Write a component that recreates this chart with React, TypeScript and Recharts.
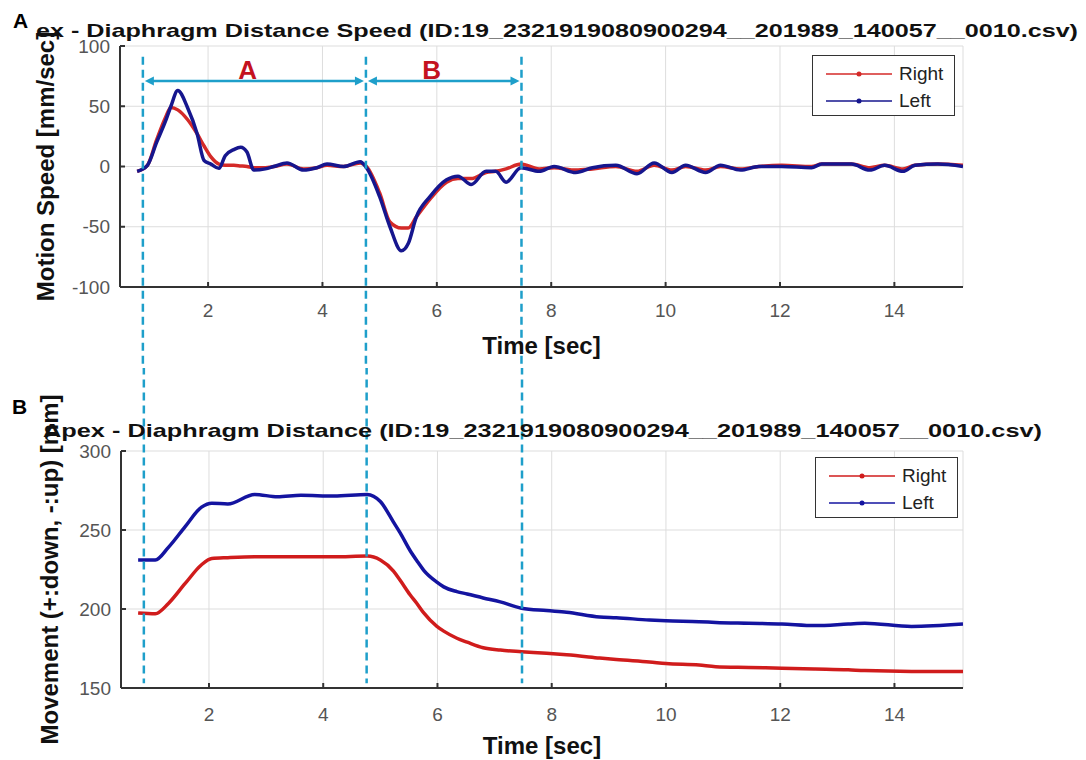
import React from "react";
import {
  CartesianGrid,
  Legend,
  Line,
  LineChart,
  ReferenceDot,
  ReferenceLine,
  XAxis,
  YAxis
} from "recharts";

// speed panel (A)
const speedTime = [0.76, 0.94, 1.1, 1.25, 1.35, 1.47, 1.64, 1.81, 1.93, 2.05, 2.19, 2.3, 2.45, 2.57, 2.68, 2.8, 3.0, 3.15, 3.38, 3.67, 3.9, 4.08, 4.37, 4.66, 4.77, 5.0, 5.18, 5.38, 5.5, 5.64, 5.88, 6.17, 6.37, 6.6, 6.86, 7.03, 7.21, 7.47, 7.79, 8.05, 8.43, 8.72, 9.13, 9.5, 9.8, 10.11, 10.35, 10.7, 10.96, 11.31, 11.63, 12.03, 12.55, 12.73, 13.25, 13.57, 13.83, 14.15, 14.36, 14.76, 15.2];
const speedRight = [-4, 1, 22, 40, 49, 47, 39, 27, 17, 8, 2, 1, 1, 0.5, 0, -1, -1, 0, 2, -2, -1, 1, 0, 3, 0, -22, -46, -51, -51, -42, -27, -13, -10, -10, -5, -4, -2, 2, -2, -1, -3, -2, 0, -4, 1, -3, 0, -3, 0, -2, 0, 1, 0, 2, 2, -1, 1, -2, 1, 2, 1];
const speedLeft = [-4, 1, 20, 37, 50, 63, 49, 27, 5, 2, -1.5, 9, 14, 16, 12, -3, -2, 0, 3, -3, -1, 2, 0, 4, -1, -25, -50, -70, -64, -42, -25, -11, -8, -15, -4, -4, -13, -1, -4, 0, -5, -1, 1, -6, 3, -5, 1, -5, 1, -3, 0, 0, -1, 2, 2, -3, 1, -4, 1, 2, 0];

// distance panel (B)
const distTime = [0.76, 1.06, 1.29, 1.58, 1.87, 2.05, 2.33, 2.8, 3.2, 3.61, 4.19, 4.77, 5.0, 5.23, 5.35, 5.52, 5.64, 5.76, 5.99, 6.11, 6.34, 6.52, 6.8, 7.1, 7.47, 7.91, 8.26, 8.84, 9.13, 9.71, 10.0, 10.58, 10.87, 11.45, 12.03, 12.61, 13.19, 13.48, 14.3, 15.2];
const distRight = [197.5, 197, 203.5, 216, 228, 232, 232.5, 233, 233, 233, 233, 233.5, 231, 224, 218, 209, 203.5, 197.5, 189, 186, 181.5, 179, 175.5, 174, 173, 172, 171, 169, 168, 166.5, 165.5, 164.5, 163.5, 163, 162.5, 162, 161.5, 161, 160.5, 160.5];
const distLeft = [231, 231, 239, 252, 264.5, 267, 266.5, 272.5, 271, 272, 271.5, 272.5, 268, 255, 248, 237, 230.5, 224.5, 217, 214, 211, 209.5, 207, 204.5, 200.5, 199, 198, 195, 194.5, 193, 192.5, 192, 191.5, 191, 190.5, 189.5, 190.5, 191, 189, 190.5];

const timeTicks = [2, 4, 6, 8, 10, 12, 14];
const timeDomain = [0.46, 15.2];
const speedTicks = [-100, -50, 0, 50, 100];
const speedDomain = [-100, 100];
const distTicks = [150, 200, 250, 300];
const distDomain = [150, 300];

// phase markers
const phaseBounds = [0.86, 4.76, 7.48];
const phaseNames = ["A", "B"];
const phaseNameX = [2.69, 5.91];
const phaseNameY = 80;
const arrowY = 71;
const legendOrder = ["Right", "Left"];

const FONT = "'Liberation Sans', Arial, sans-serif";
const AXIS = "#333333";
const CYAN = "#1e9fca";
const RED = "#d42a28";
const BLUE = "#16168e";

const speedData = speedTime.map((t, i) => ({ t, right: speedRight[i], left: speedLeft[i] }));
const distData = distTime.map((t, i) => ({ t, right: distRight[i], left: distLeft[i] }));

const ArrowShape = (props: any) => {
  const { x1, y1, x2, y2 } = props;
  const a = Math.min(x1, x2) + 2;
  const b = Math.max(x1, x2) - 2;
  return (
    <g>
      <line x1={a + 4} y1={y1} x2={b - 4} y2={y2} stroke={CYAN} strokeWidth={2.5} />
      <polygon points={`${a},${y1} ${a + 9},${y1 - 4.5} ${a + 9},${y1 + 4.5}`} fill={CYAN} />
      <polygon points={`${b},${y2} ${b - 9},${y2 - 4.5} ${b - 9},${y2 + 4.5}`} fill={CYAN} />
    </g>
  );
};

const LegendBox = ({ payload }: any) => {
  const items = legendOrder
    .map((name) => (payload || []).find((p: any) => p.value === name))
    .filter(Boolean);
  return (
    <div
      style={{
        border: "1.5px solid #333",
        background: "#fff",
        width: 143,
        height: 61,
        boxSizing: "border-box",
        padding: "4px 0 0 13px",
        fontFamily: FONT,
        fontSize: 19,
        color: "#222"
      }}
    >
      {items.map((p: any) => (
        <div key={p.value} style={{ display: "flex", alignItems: "center", height: 27 }}>
          <svg width={70} height={10}>
            <line x1={0} y1={5} x2={66} y2={5} stroke={p.color} strokeWidth={1.5} />
            <circle cx={33} cy={5} r={2.5} fill={p.color} />
          </svg>
          <span style={{ marginLeft: 3, lineHeight: "20px" }}>{p.value}</span>
        </div>
      ))}
    </div>
  );
};

const tickStyle = { fill: "#555", fontSize: 19, fontFamily: FONT };
const axisLineStyle = { stroke: AXIS, strokeWidth: 2 };

export default function App() {
  return (
    <div style={{ position: "absolute", left: 0, top: 0, width: 1086, height: 760, background: "#fff", fontFamily: FONT }}>
      <div style={{ position: "absolute", left: 0, top: 0 }}>
        <LineChart width={1086} height={368} data={speedData} margin={{ top: 46, right: 123, bottom: 0, left: 0 }}>
          <CartesianGrid stroke="#dddddd" strokeWidth={1} />
          <XAxis
            dataKey="t"
            type="number"
            domain={timeDomain}
            ticks={timeTicks}
            allowDataOverflow
            height={81}
            tickSize={-5}
            tickMargin={22}
            axisLine={axisLineStyle}
            tickLine={axisLineStyle}
            tick={tickStyle}
            label={{ value: "Time [sec]", position: "insideBottom", offset: 14, fill: "#111", fontSize: 24, fontWeight: "bold", fontFamily: FONT }}
          />
          <XAxis xAxisId="top" orientation="top" dataKey="t" type="number" domain={timeDomain} ticks={timeTicks} allowDataOverflow height={0} tickSize={-5} tick={false} axisLine={axisLineStyle} tickLine={axisLineStyle} />
          <YAxis
            type="number"
            domain={speedDomain}
            ticks={speedTicks}
            allowDataOverflow
            width={120}
            tickSize={-5}
            tickMargin={15}
            axisLine={axisLineStyle}
            tickLine={axisLineStyle}
            tick={tickStyle}
            label={{ value: "Motion Speed [mm/sec]", angle: -90, position: "insideLeft", offset: 45, fill: "#111", fontSize: 24, fontWeight: "bold", fontFamily: FONT, style: { textAnchor: "middle" } }}
          />
          <YAxis yAxisId="right" orientation="right" type="number" domain={speedDomain} ticks={speedTicks} allowDataOverflow width={0} tickSize={-5} tick={false} axisLine={axisLineStyle} tickLine={axisLineStyle} />
          <Line type="monotone" dataKey="right" name="Right" stroke={RED} strokeWidth={3.5} dot={false} isAnimationActive={false} />
          <Line type="monotone" dataKey="left" name="Left" stroke={BLUE} strokeWidth={3.5} dot={false} isAnimationActive={false} />
          {phaseBounds.map((x) => (
            <ReferenceLine
              key={`a${x}`}
              segment={[{ x, y: 91 }, { x, y: -175 }]}
              ifOverflow="visible"
              stroke={CYAN}
              strokeWidth={2.5}
              strokeDasharray="8 5"
            />
          ))}
          {phaseNames.map((name, i) => (
            <ReferenceLine
              key={`arrow${name}`}
              segment={[{ x: phaseBounds[i], y: arrowY }, { x: phaseBounds[i + 1], y: arrowY }]}
              ifOverflow="visible"
              shape={ArrowShape}
            />
          ))}
          {phaseNames.map((name, i) => (
            <ReferenceDot
              key={`name${name}`}
              x={phaseNameX[i]}
              y={phaseNameY}
              r={0}
              fill="none"
              stroke="none"
              label={{ value: name, position: "center", fill: "#c4121f", fontSize: 26, fontWeight: "bold", fontFamily: FONT }}
            />
          ))}
          <Legend
            layout="vertical"
            align="center"
            verticalAlign="middle"
            content={LegendBox}
            wrapperStyle={{ left: 812, top: 55, width: 143, height: 61 }}
          />
        </LineChart>
      </div>

      <div style={{ position: "absolute", left: 0, top: 368 }}>
        <LineChart width={1086} height={392} data={distData} margin={{ top: 83, right: 123, bottom: 0, left: 0 }}>
          <CartesianGrid stroke="#dddddd" strokeWidth={1} />
          <XAxis
            dataKey="t"
            type="number"
            domain={timeDomain}
            ticks={timeTicks}
            allowDataOverflow
            height={72}
            tickSize={-5}
            tickMargin={25}
            axisLine={axisLineStyle}
            tickLine={axisLineStyle}
            tick={tickStyle}
            label={{ value: "Time [sec]", position: "insideBottom", offset: 6, fill: "#111", fontSize: 24, fontWeight: "bold", fontFamily: FONT }}
          />
          <XAxis xAxisId="top" orientation="top" dataKey="t" type="number" domain={timeDomain} ticks={timeTicks} allowDataOverflow height={0} tickSize={-5} tick={false} axisLine={axisLineStyle} tickLine={axisLineStyle} />
          <YAxis
            type="number"
            domain={distDomain}
            ticks={distTicks}
            allowDataOverflow
            width={121}
            tickSize={-5}
            tickMargin={15}
            axisLine={axisLineStyle}
            tickLine={axisLineStyle}
            tick={tickStyle}
            label={{ value: "Movement (+:down, -:up) [mm]", angle: -90, position: "insideLeft", offset: 49, fill: "#111", fontSize: 24, fontWeight: "bold", fontFamily: FONT, style: { textAnchor: "middle" } }}
          />
          <YAxis yAxisId="right" orientation="right" type="number" domain={distDomain} ticks={distTicks} allowDataOverflow width={0} tickSize={-5} tick={false} axisLine={axisLineStyle} tickLine={axisLineStyle} />
          <Line type="monotone" dataKey="right" name="Right" stroke="#d01c1c" strokeWidth={3.5} dot={false} isAnimationActive={false} />
          <Line type="monotone" dataKey="left" name="Left" stroke="#1414a0" strokeWidth={3.5} dot={false} isAnimationActive={false} />
          {phaseBounds.map((x) => (
            <ReferenceLine
              key={`b${x}`}
              segment={[{ x, y: 370 }, { x, y: 153 }]}
              ifOverflow="visible"
              stroke={CYAN}
              strokeWidth={2.5}
              strokeDasharray="8 5"
            />
          ))}
          <Legend
            layout="vertical"
            align="center"
            verticalAlign="middle"
            content={LegendBox}
            wrapperStyle={{ left: 815, top: 89, width: 143, height: 61 }}
          />
        </LineChart>
      </div>

      <svg width={1086} height={760} style={{ position: "absolute", left: 0, top: 0, pointerEvents: "none" }}>
        <text x={13} y={28} fontSize={21} fontWeight="bold" fill="#000" fontFamily={FONT}>A</text>
        <text x={36} y={37} fontSize={19} fontWeight="bold" fill="#111" fontFamily={FONT} textLength={1042} lengthAdjust="spacingAndGlyphs">
          ex - Diaphragm Distance Speed (ID:19_2321919080900294__201989_140057__0010.csv)
        </text>
        <text x={12} y={414} fontSize={21} fontWeight="bold" fill="#000" fontFamily={FONT}>B</text>
        <text x={43} y={437} fontSize={19} fontWeight="bold" fill="#111" fontFamily={FONT} textLength={999} lengthAdjust="spacingAndGlyphs">
          Apex - Diaphragm Distance (ID:19_2321919080900294__201989_140057__0010.csv)
        </text>
      </svg>
    </div>
  );
}
